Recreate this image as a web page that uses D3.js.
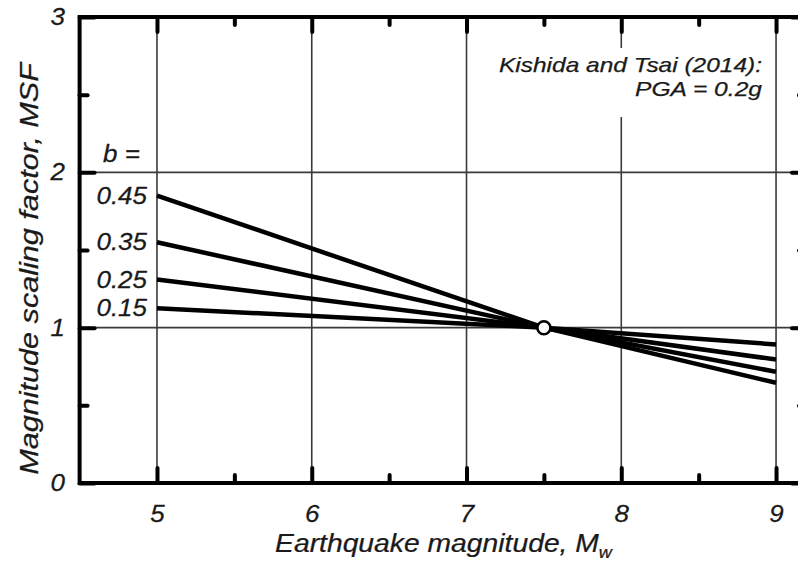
<!DOCTYPE html>
<html>
<head>
<meta charset="utf-8">
<script src="https://cdn.jsdelivr.net/npm/d3@7"></script>
<style>
  html, body { margin: 0; padding: 0; background: #fff; }
  svg { display: block; }
  text { font-family: "Liberation Sans", Arial, sans-serif; font-style: italic; fill: #1a1a1a; stroke: #1a1a1a; stroke-width: 0.25; }
</style>
</head>
<body>
<svg id="chart" width="798" height="565"></svg>
<script>
// ---- data ----
const bValues     = [0.45, 0.35, 0.25, 0.15];
const bLabels     = ["0.45", "0.35", "0.25", "0.15"];
const magnitudes  = [5, 7.5, 9];
const msfSeries   = [
  [1.85, 1.00, 0.645],   // b = 0.45
  [1.55, 1.00, 0.716],   // b = 0.35
  [1.31, 1.00, 0.795],   // b = 0.25
  [1.125, 1.00, 0.892]   // b = 0.15
];
const xMajorTicks = [5, 6, 7, 8, 9];
const xMinorTicks = [5.5, 6.5, 7.5, 8.5];
const yMajorTicks = [0, 1, 2, 3];
const yMinorTicks = [0.5, 1.5, 2.5];
const xGrid = [5, 6, 7, 8, 9];
const yGrid = [1, 2];
const anchorPoint = {m: 7.5, msf: 1};
const annotation = ["Kishida and Tsai (2014):", "PGA = 0.2g"];

// ---- layout ----
const svg = d3.select("#chart");
const x = d3.scaleLinear().domain([4.5, 9.2]).range([79.6, 807]);
const y = d3.scaleLinear().domain([0, 3]).range([483, 17]);
const SX = 1.13; // horizontal stretch of the reference's lettering

// gridlines
svg.append("g").selectAll("line").data(xGrid).join("line")
  .attr("x1", d => x(d)).attr("x2", d => x(d))
  .attr("y1", y(0)).attr("y2", y(3))
  .attr("stroke", "#3a3a3a").attr("stroke-width", 1.6);
svg.append("g").selectAll("line").data(yGrid).join("line")
  .attr("x1", x(4.5)).attr("x2", x(9.2))
  .attr("y1", d => y(d)).attr("y2", d => y(d))
  .attr("stroke", "#3a3a3a").attr("stroke-width", 1.6);

// annotation background + text
svg.append("rect").attr("x", 492).attr("y", 48).attr("width", 278).attr("height", 69).attr("fill", "#fff");
const ann = svg.append("g");
annotation.forEach((t, i) => {
  ann.append("text")
    .attr("x", 762).attr("y", 72 + i * 24)
    .attr("text-anchor", "end")
    .attr("font-size", 21)
    .attr("textLength", i === 0 ? 263 : 127)
    .attr("lengthAdjust", "spacingAndGlyphs")
    .text(t);
});

// data lines
const line = d3.line().x((d, i) => x(magnitudes[i])).y(d => y(d));
svg.append("g").selectAll("path").data(msfSeries).join("path")
  .attr("d", d => line(d))
  .attr("fill", "none").attr("stroke", "#000").attr("stroke-width", 4.5)
  .attr("stroke-linejoin", "round");

// b labels
svg.append("text").attr("font-size", 23)
  .attr("transform", `translate(103,162) scale(${SX},1)`).text("b =");
svg.append("g").selectAll("text").data(bValues).join("text")
  .attr("font-size", 23).attr("text-anchor", "end")
  .attr("transform", (d, i) => `translate(147,${y(msfSeries[i][0]) + 8}) scale(${SX},1)`)
  .text((d, i) => bLabels[i]);

// frame
svg.append("rect")
  .attr("x", x(4.5)).attr("y", y(3))
  .attr("width", x(9.2) - x(4.5)).attr("height", y(0) - y(3))
  .attr("fill", "none").attr("stroke", "#000").attr("stroke-width", 4);

// axes (ticks pointing inward)
function styleAxis(g) {
  g.select(".domain").remove();
  g.selectAll(".tick line").attr("stroke", "#000").attr("stroke-width", 4).attr("stroke-linecap", "round");
  g.selectAll(".tick text").attr("font-size", 23).attr("fill", "#1a1a1a")
    .attr("font-family", "Liberation Sans, Arial, sans-serif").attr("font-style", "italic");
}
svg.append("g").attr("transform", `translate(0,${y(0)})`)
  .call(d3.axisBottom(x).tickValues(xMajorTicks).tickSizeInner(-15).tickSizeOuter(0).tickPadding(22.5).tickFormat(d3.format("d")))
  .call(styleAxis)
  .call(g => g.selectAll(".tick text").attr("transform", `scale(${SX},1)`));
svg.append("g").attr("transform", `translate(0,${y(0)})`)
  .call(d3.axisBottom(x).tickValues(xMinorTicks).tickSizeInner(-8).tickSizeOuter(0).tickFormat(""))
  .call(styleAxis);
svg.append("g").attr("transform", `translate(0,${y(3)})`)
  .call(d3.axisTop(x).tickValues(xMajorTicks).tickSizeInner(-15).tickSizeOuter(0).tickFormat(""))
  .call(styleAxis);
svg.append("g").attr("transform", `translate(0,${y(3)})`)
  .call(d3.axisTop(x).tickValues(xMinorTicks).tickSizeInner(-8).tickSizeOuter(0).tickFormat(""))
  .call(styleAxis);
svg.append("g").attr("transform", `translate(${x(4.5)},0)`)
  .call(d3.axisLeft(y).tickValues(yMajorTicks).tickSizeInner(-15).tickSizeOuter(0).tickPadding(13).tickFormat(d3.format("d")))
  .call(styleAxis)
  .call(g => g.selectAll(".tick text").attr("transform", `scale(${SX},1)`));
svg.append("g").attr("transform", `translate(${x(4.5)},0)`)
  .call(d3.axisLeft(y).tickValues(yMinorTicks).tickSizeInner(-8).tickSizeOuter(0).tickFormat(""))
  .call(styleAxis);
svg.append("g").attr("transform", `translate(${x(9.2)},0)`)
  .call(d3.axisRight(y).tickValues(yMajorTicks).tickSizeInner(-15).tickSizeOuter(0).tickFormat(""))
  .call(styleAxis);
svg.append("g").attr("transform", `translate(${x(9.2)},0)`)
  .call(d3.axisRight(y).tickValues(yMinorTicks).tickSizeInner(-8).tickSizeOuter(0).tickFormat(""))
  .call(styleAxis);

// anchor point
svg.append("circle")
  .attr("cx", x(anchorPoint.m)).attr("cy", y(anchorPoint.msf)).attr("r", 6.5)
  .attr("fill", "#fff").attr("stroke", "#000").attr("stroke-width", 2.5);

// axis titles
const xt = svg.append("text").attr("font-size", 25).attr("text-anchor", "middle");
xt.append("tspan").text("Earthquake magnitude, M");
xt.append("tspan").attr("font-size", 16).attr("dy", 6).text("w");
{
  const w = xt.node().getComputedTextLength();
  xt.attr("transform", `translate(443.5,552) scale(${337 / w},1)`);
}
const yt = svg.append("text").attr("font-size", 25).attr("text-anchor", "middle")
  .text("Magnitude scaling factor, MSF");
{
  const w = yt.node().getComputedTextLength();
  yt.attr("transform", `translate(38,269) rotate(-90) scale(${412 / w},1)`);
}
</script>
</body>
</html>
